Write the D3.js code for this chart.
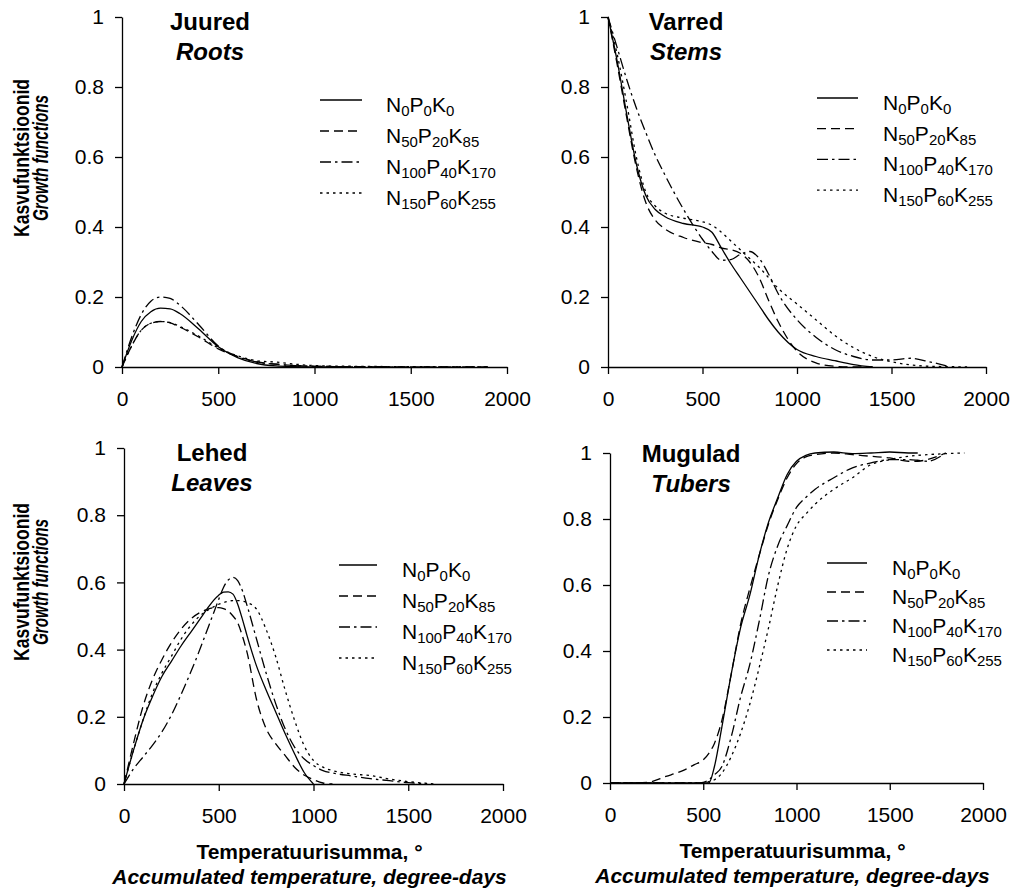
<!DOCTYPE html>
<html>
<head>
<meta charset="utf-8">
<script src="https://cdn.jsdelivr.net/npm/d3@7"></script>
<style>
  body { margin: 0; background: #fff; }
  svg { display: block; }
  text { font-family: "Liberation Sans", Arial, sans-serif; fill: #000; }
</style>
</head>
<body>
<script>
// ---- data ----
const xTicks = [0, 500, 1000, 1500, 2000];
const yTicks = [0, 0.2, 0.4, 0.6, 0.8, 1];

// treatments: N, P, K doses (subscripts)
const nDose = ["0", "50", "100", "150"];
const pDose = ["0", "20", "40", "60"];
const kDose = ["0", "85", "170", "255"];

const titlesEt = ["Juured", "Varred", "Lehed", "Mugulad"];
const titlesEn = ["Roots", "Stems", "Leaves", "Tubers"];

// Roots
const rootsX    = [0, 50, 100, 150, 200, 250, 300, 400, 500, 600, 700, 800, 900, 1000, 1200, 1500, 1900];
const rootsN0   = [0, 0.075, 0.13, 0.158, 0.168, 0.166, 0.153, 0.108, 0.058, 0.027, 0.01, 0.003, 0.001, 0, 0, null, null];
const rootsN50  = [0, 0.06, 0.105, 0.125, 0.13, 0.126, 0.114, 0.085, 0.052, 0.03, 0.015, 0.008, 0.004, 0.002, 0.001, 0, 0];
const rootsN100 = [0, 0.085, 0.15, 0.188, 0.2, 0.196, 0.177, 0.12, 0.06, 0.03, 0.014, 0.008, 0.004, 0.002, 0.001, 0.0005, 0];
const rootsN150 = [0, 0.06, 0.105, 0.125, 0.13, 0.127, 0.116, 0.088, 0.055, 0.032, 0.018, 0.014, 0.008, 0.004, 0.002, 0.001, 0];

// Stems
const stemsX    = [0, 50, 100, 150, 200, 250, 300, 400, 500, 550, 600, 650, 700, 750, 800, 850, 900, 1000, 1100, 1200, 1300, 1400, 1500, 1600, 1700, 1800, 1900];
const stemsN0   = [1, 0.87, 0.72, 0.58, 0.49, 0.45, 0.43, 0.41, 0.40, 0.385, 0.34, 0.295, 0.255, 0.215, 0.175, 0.135, 0.10, 0.05, 0.03, 0.018, 0.007, 0, null, null, null, null, null];
const stemsN50  = [1, 0.86, 0.71, 0.57, 0.47, 0.42, 0.395, 0.37, 0.355, 0.35, 0.34, 0.335, 0.325, 0.30, 0.255, 0.19, 0.13, 0.045, 0.012, 0.002, 0, 0, null, null, null, null, null];
const stemsN100 = [1, 0.91, 0.82, 0.74, 0.67, 0.605, 0.55, 0.45, 0.365, 0.33, 0.305, 0.307, 0.322, 0.33, 0.31, 0.265, 0.21, 0.135, 0.085, 0.05, 0.03, 0.02, 0.02, 0.025, 0.015, 0.002, null];
const stemsN150 = [1, 0.89, 0.75, 0.6, 0.5, 0.46, 0.44, 0.425, 0.415, 0.405, 0.385, 0.36, 0.335, 0.31, 0.285, 0.255, 0.225, 0.18, 0.135, 0.09, 0.055, 0.03, 0.015, 0.006, 0.002, 0.001, 0];

// Leaves
const leavesX    = [0, 50, 100, 150, 200, 250, 300, 350, 400, 450, 475, 500, 525, 550, 575, 600, 625, 650, 700, 750, 800, 850, 900, 950, 1000, 1050, 1100, 1200, 1300, 1400, 1500, 1600, 1650];
const leavesN0   = [0, 0.1, 0.19, 0.26, 0.32, 0.365, 0.41, 0.45, 0.49, 0.53, 0.548, 0.562, 0.571, 0.572, 0.565, 0.535, 0.49, 0.44, 0.35, 0.28, 0.215, 0.15, 0.09, 0.035, 0, null, null, null, null, null, null, null, null];
const leavesN50  = [0, 0.12, 0.23, 0.31, 0.37, 0.42, 0.46, 0.49, 0.51, 0.522, 0.525, 0.525, 0.522, 0.515, 0.5, 0.48, 0.44, 0.39, 0.25, 0.165, 0.12, 0.085, 0.05, 0.027, 0.013, 0.003, 0, null, null, null, null, null, null];
const leavesN100 = [0, 0.045, 0.08, 0.115, 0.155, 0.205, 0.265, 0.33, 0.4, 0.475, 0.512, 0.55, 0.585, 0.607, 0.615, 0.605, 0.575, 0.53, 0.43, 0.33, 0.24, 0.165, 0.11, 0.075, 0.055, 0.04, 0.033, 0.024, 0.016, 0.01, 0.004, 0.001, null];
const leavesN150 = [0, 0.1, 0.19, 0.27, 0.33, 0.38, 0.43, 0.47, 0.50, 0.52, 0.528, 0.535, 0.54, 0.544, 0.546, 0.546, 0.544, 0.54, 0.52, 0.46, 0.38, 0.28, 0.19, 0.115, 0.07, 0.05, 0.04, 0.03, 0.025, 0.015, 0.007, 0.002, 0];

// Tubers
const tubersX    = [0, 100, 200, 300, 400, 450, 500, 530, 560, 600, 650, 700, 750, 800, 850, 900, 950, 1000, 1050, 1100, 1200, 1300, 1400, 1500, 1600, 1650, 1700, 1800, 1900];
const tubersN0   = [0, 0, 0, 0, 0, 0, 0, 0, 0.05, 0.17, 0.33, 0.47, 0.57, 0.69, 0.79, 0.865, 0.935, 0.975, 0.993, 1.0, 1.003, 0.998, 1.0, 1.003, 1.0, 1.0, null, null, null];
const tubersN50  = [0, 0, 0.002, 0.02, 0.04, 0.055, 0.07, 0.09, 0.12, 0.19, 0.33, 0.48, 0.59, 0.69, 0.785, 0.86, 0.925, 0.968, 0.988, 0.995, 1.0, 0.995, 0.99, 0.985, 0.975, 0.975, 0.98, 1.0, null];
const tubersN100 = [0, 0, 0, 0, 0, 0, 0.002, 0.01, 0.025, 0.05, 0.14, 0.26, 0.36, 0.49, 0.63, 0.72, 0.78, 0.835, 0.865, 0.89, 0.925, 0.955, 0.97, 0.98, 0.98, 0.978, 0.975, 1.0, null];
const tubersN150 = [0, 0, 0, 0, 0, 0, 0.001, 0.004, 0.01, 0.03, 0.08, 0.15, 0.24, 0.35, 0.47, 0.6, 0.71, 0.78, 0.815, 0.845, 0.89, 0.925, 0.965, 0.98, 0.99, 0.993, 0.995, 0.998, 1.0];

// ---- layout ----
const W = 1019, H = 892;
const dashes = [null, "9,5", "11,4,2.5,4", "2.5,4"];

const panels = [
  {x: rootsX, ys: [rootsN0, rootsN50, rootsN100, rootsN150],
   box: {l: 122, r: 507, t: 17, b: 367}, leg: {x0: 320, x1: 362, tx: 386, y0: 100, dy: 31},
   tcx: 210, tby: 30},
  {x: stemsX, ys: [stemsN0, stemsN50, stemsN100, stemsN150],
   box: {l: 608, r: 986, t: 17, b: 367}, leg: {x0: 817, x1: 858, tx: 883, y0: 98, dy: 30.7},
   tcx: 686, tby: 30},
  {x: leavesX, ys: [leavesN0, leavesN50, leavesN100, leavesN150],
   box: {l: 124, r: 503, t: 448, b: 784}, leg: {x0: 339, x1: 377, tx: 402, y0: 565, dy: 31},
   tcx: 212, tby: 461},
  {x: tubersX, ys: [tubersN0, tubersN50, tubersN100, tubersN150],
   box: {l: 610, r: 983, t: 453, b: 783}, leg: {x0: 827, x1: 867, tx: 892, y0: 563, dy: 29},
   tcx: 691, tby: 462}
];

const svg = d3.select("body").append("svg")
    .attr("width", W)
    .attr("height", H);

panels.forEach(function(p, i) {
  const g = svg.append("g");
  const xScale = d3.scaleLinear().domain([0, 2000]).range([p.box.l, p.box.r]);
  const yScale = d3.scaleLinear().domain([0, 1]).range([p.box.b, p.box.t]);

  // axes
  const xAxis = g.append("g")
      .attr("transform", "translate(0," + p.box.b + ")")
      .call(d3.axisBottom(xScale).tickValues(xTicks).tickSize(7).tickSizeOuter(0).tickPadding(17)
        .tickFormat(d3.format("d")));
  const yAxis = g.append("g")
      .attr("transform", "translate(" + p.box.l + ",0)")
      .call(d3.axisLeft(yScale).tickValues(yTicks).tickSize(7).tickSizeOuter(0).tickPadding(11)
        .tickFormat(d => String(d)));

  [xAxis, yAxis].forEach(function(a) {
    a.attr("font-family", null).attr("font-size", "21");
    a.select(".domain").attr("stroke", "#000").attr("stroke-width", 1.3);
    a.selectAll(".tick line").attr("stroke", "#000").attr("stroke-width", 1.3);
    a.selectAll(".tick text").attr("font-size", 21).attr("fill", "#000");
  });

  // curves
  p.ys.forEach(function(ys, k) {
    const pts = p.x.map((xv, j) => [xv, ys[j]]);
    const line = d3.line()
        .defined(d => d[1] !== null)
        .x(d => xScale(d[0]))
        .y(d => yScale(d[1]))
        .curve(d3.curveMonotoneX);
    g.append("path")
      .datum(pts)
      .attr("d", line)
      .attr("fill", "none")
      .attr("stroke", "#000")
      .attr("stroke-width", 1.3)
      .attr("stroke-dasharray", dashes[k]);
  });

  // panel title
  g.append("text")
    .attr("x", p.tcx).attr("y", p.tby)
    .attr("text-anchor", "middle")
    .attr("font-size", 24).attr("font-weight", "bold")
    .text(titlesEt[i]);
  g.append("text")
    .attr("x", p.tcx).attr("y", p.tby + 30)
    .attr("text-anchor", "middle")
    .attr("font-size", 24).attr("font-weight", "bold").attr("font-style", "italic")
    .text(titlesEn[i]);

  // legend
  for (let k = 0; k < 4; k++) {
    const ly = p.leg.y0 + k * p.leg.dy;
    g.append("line")
      .attr("x1", p.leg.x0).attr("x2", p.leg.x1)
      .attr("y1", ly).attr("y2", ly)
      .attr("stroke", "#000").attr("stroke-width", 1.3)
      .attr("stroke-dasharray", dashes[k]);
    const t = g.append("text")
      .attr("x", p.leg.tx).attr("y", ly + 12)
      .attr("font-size", 21);
    [["N", nDose[k]], ["P", pDose[k]], ["K", kDose[k]]].forEach(function(pair, m) {
      t.append("tspan").attr("dy", m === 0 ? 0 : -4).attr("font-size", 21).text(pair[0]);
      t.append("tspan").attr("dy", 4).attr("font-size", 15).text(pair[1]);
    });
  }

  // y-axis titles (left column only)
  if (i % 2 === 0) {
    const cy = (p.box.t + p.box.b) / 2 - 34;
    g.append("text")
      .attr("transform", "translate(29," + cy + ") rotate(-90)")
      .attr("text-anchor", "middle")
      .attr("textLength", 158).attr("lengthAdjust", "spacingAndGlyphs")
      .attr("font-size", 22).attr("font-weight", "bold")
      .text("Kasvufunktsioonid");
    g.append("text")
      .attr("transform", "translate(48," + cy + ") rotate(-90)")
      .attr("text-anchor", "middle")
      .attr("textLength", 126).attr("lengthAdjust", "spacingAndGlyphs")
      .attr("font-size", 22).attr("font-weight", "bold").attr("font-style", "italic")
      .text("Growth functions");
  }

  // x-axis titles (bottom row only)
  if (i >= 2) {
    const cx = (p.box.l + p.box.r) / 2 - 4;
    g.append("text")
      .attr("x", cx).attr("y", p.box.b + 75)
      .attr("text-anchor", "middle")
      .attr("font-size", 21).attr("font-weight", "bold")
      .text("Temperatuurisumma, \u00B0");
    g.append("text")
      .attr("x", cx).attr("y", p.box.b + 100)
      .attr("text-anchor", "middle")
      .attr("font-size", 21).attr("font-weight", "bold").attr("font-style", "italic")
      .text("Accumulated temperature, degree-days");
  }
});
</script>
</body>
</html>
